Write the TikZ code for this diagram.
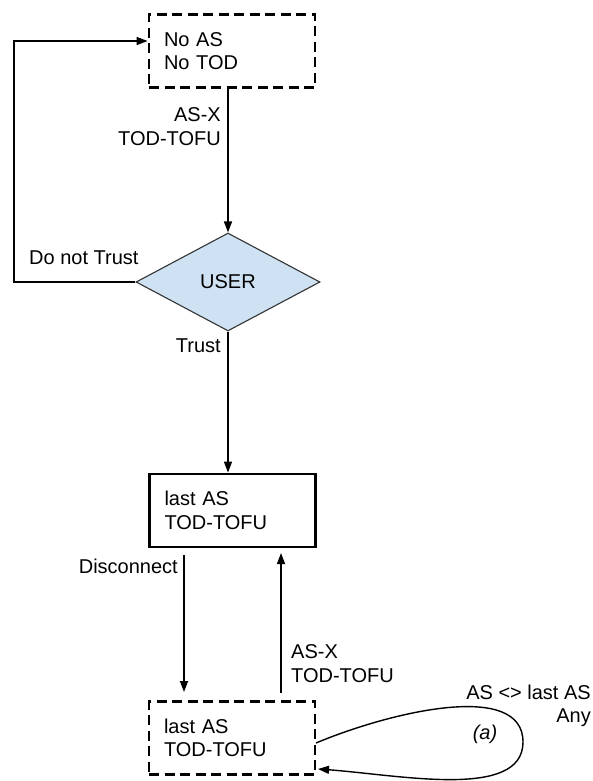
\documentclass[tikz,border=0pt]{standalone}
\usepackage{fontspec}
\setmainfont{Liberation Sans}
\usetikzlibrary{shapes.geometric,arrows.meta,calc}
\begin{document}
\begin{tikzpicture}[x=1pt,y=-1pt,
  font=\fontsize{20}{23.5}\selectfont,
  statebox/.style={draw=black,line width=2.8pt,minimum height=73pt,
    text width=136pt,inner xsep=15pt,align=left,anchor=center},
  dashedbox/.style={statebox,dash pattern=on 10pt off 5.5pt},
  conn/.style={draw=black,line width=1.4pt,-{Triangle[length=11pt,width=8pt]}},
  lbl/.style={inner sep=0pt,align=left},
  decision/.style={diamond,draw=black!80,line width=1.1pt,
    fill={rgb,255:red,207;green,226;blue,243},minimum width=184pt,minimum height=98pt,
    aspect=1.88,inner sep=0pt}]
\useasboundingbox (0,0) rectangle (592,781);

\node[dashedbox] (top) at (232,51) {No AS\\No TOD};
\node[decision] (user) at (228,282) {USER};
\node[statebox] (mid) at (232.5,510.5) {last AS\\TOD-TOFU};
\node[dashedbox] (bot) at (232,738) {last AS\\TOD-TOFU};

\coordinate (loopc) at (14,282);
\coordinate (dstart) at (184,555);
\coordinate (dend) at (184,692);
\coordinate (ustart) at (281,693);
\coordinate (uend) at (281,553);
\coordinate (lpA) at (316,743);
\coordinate (lpR) at (523,742);
\coordinate (lpB) at (318,769);

% top box -> diamond
\draw[conn] (user.north |- top.south) -- (user.north);
% do not trust loop
\draw[conn] (user.west) -- (loopc) |- ([yshift=10pt]top.west);
% trust
\draw[conn] (user.south) -- (user.south |- mid.north);
% disconnect
\draw[conn] (dstart) -- (dend);
% AS-X up
\draw[conn] (ustart) -- (uend);
% self loop
\draw[conn] (lpA) .. controls (390,712) and (523,680) .. (lpR)
  .. controls (523,800) and (400,775) .. (lpB);

% labels
\node[lbl,align=right,anchor=east] at (221,126.5) {AS-X\\TOD-TOFU};
\node[lbl,anchor=west] at (29,258) {Do not Trust};
\node[lbl,anchor=east] at (221,346) {Trust};
\node[lbl,anchor=east] at (178,566) {Disconnect};
\node[lbl,anchor=west] at (291,663.5) {AS-X\\TOD-TOFU};
\node[lbl,align=right,anchor=east] at (591,706) {AS <> last AS\\Any};
\node[lbl] at (485,734) {\itshape (a)};
\end{tikzpicture}
\end{document}
